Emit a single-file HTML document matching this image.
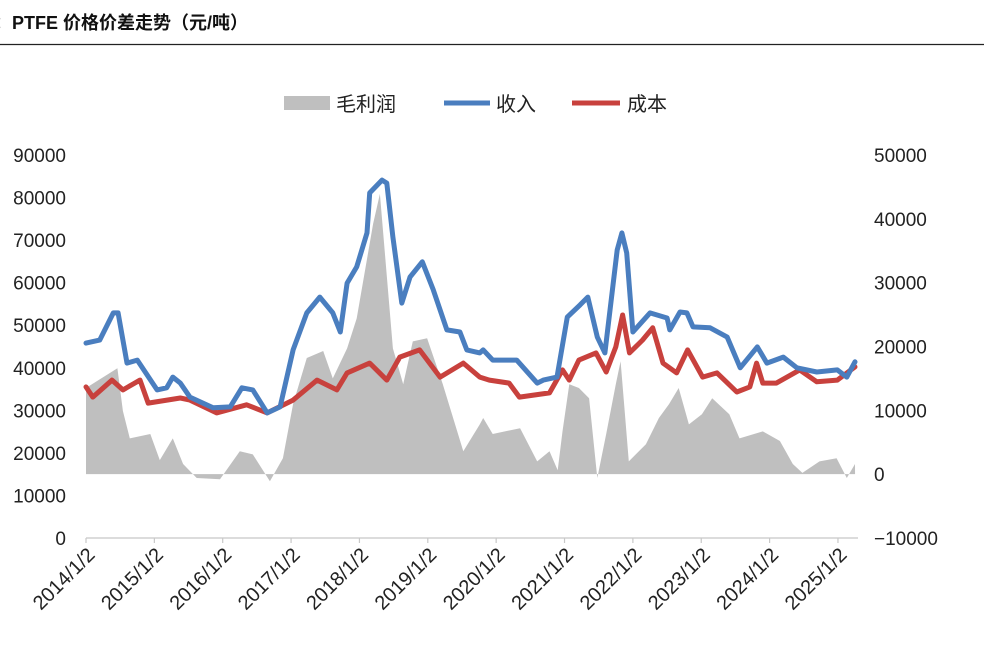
<!DOCTYPE html>
<html><head><meta charset="utf-8">
<style>
html,body{margin:0;padding:0;background:#fff;}
body{width:984px;height:652px;overflow:hidden;font-family:"Liberation Sans","Noto Sans CJK SC",sans-serif;}
</style></head>
<body>
<svg id="chart" width="984" height="652" viewBox="0 0 984 652" xmlns="http://www.w3.org/2000/svg" font-family="Liberation Sans, Noto Sans CJK SC, sans-serif">
  <text x="-6" y="29" font-size="18" font-weight="bold" fill="#111">：PTFE 价格价差走势（元/吨）</text>
  <line x1="0" y1="44.5" x2="984" y2="44.5" stroke="#222" stroke-width="1.2"/>
  <g font-size="20" fill="#222">
    <rect x="284" y="96" width="46" height="14" fill="#bfbfbf"/>
    <text x="336" y="111">毛利润</text>
    <line x1="444" y1="103" x2="490" y2="103" stroke="#4a7ebf" stroke-width="5"/>
    <text x="496" y="111">收入</text>
    <line x1="572" y1="103" x2="620" y2="103" stroke="#c8413d" stroke-width="5"/>
    <text x="627" y="111">成本</text>
  </g>
  <g id="axes"></g>
  <g id="series"></g>
</svg>
<script>
const leftTicks = [0,10000,20000,30000,40000,50000,60000,70000,80000,90000];
const rightTicks = [-10000,0,10000,20000,30000,40000,50000];
const xTickLabels = ["2014/1/2","2015/1/2","2016/1/2","2017/1/2","2018/1/2","2019/1/2","2020/1/2","2021/1/2","2022/1/2","2023/1/2","2024/1/2","2025/1/2"];
const xTickYears = [2014,2015,2016,2017,2018,2019,2020,2021,2022,2023,2024,2025];

const incomeDates = [2014.0,2014.2,2014.4,2014.47,2014.6,2014.75,2015.04,2015.18,2015.27,2015.38,2015.52,2015.86,2016.11,2016.28,2016.44,2016.65,2016.84,2017.03,2017.23,2017.42,2017.61,2017.72,2017.82,2017.96,2018.11,2018.15,2018.33,2018.4,2018.49,2018.62,2018.74,2018.92,2019.08,2019.28,2019.47,2019.57,2019.76,2019.81,2019.95,2020.3,2020.6,2020.69,2020.89,2021.04,2021.23,2021.34,2021.48,2021.59,2021.77,2021.84,2021.91,2022.0,2022.25,2022.5,2022.54,2022.69,2022.79,2022.88,2023.13,2023.38,2023.57,2023.82,2023.96,2024.2,2024.4,2024.69,2024.99,2025.13,2025.25];
const incomeValues = [45800,46500,52900,52900,41100,41800,34800,35300,37800,36400,33100,30600,30800,35300,34800,29400,30800,44200,52900,56600,52900,48400,59900,63700,71700,81100,84100,83400,70700,55200,61300,64900,58300,48900,48400,44200,43500,44200,41800,41800,36400,37100,37800,51900,54800,56600,47200,43500,67700,71700,67000,48400,52900,51700,48900,53100,52900,49600,49400,47200,40000,44900,41100,42500,40000,39000,39500,37800,41400];

const costDates = [2014.0,2014.1,2014.38,2014.54,2014.79,2014.91,2015.38,2015.52,2015.91,2016.35,2016.65,2017.03,2017.38,2017.67,2017.82,2018.15,2018.4,2018.59,2018.88,2019.18,2019.52,2019.76,2019.9,2020.19,2020.34,2020.78,2020.97,2021.07,2021.21,2021.46,2021.61,2021.75,2021.85,2021.95,2022.14,2022.29,2022.44,2022.64,2022.8,2023.02,2023.23,2023.52,2023.71,2023.81,2023.9,2024.1,2024.44,2024.69,2024.99,2025.25];
const costValues = [35500,33100,37100,34800,37100,31700,32900,32400,29400,31300,29400,32400,37100,34800,38800,41100,37100,42500,44200,37800,41100,37800,37100,36400,33100,34100,39500,37100,41800,43500,39000,44900,52400,43500,46500,49400,41100,38800,44200,37800,38800,34300,35500,41100,36400,36400,39500,36700,37100,40200];

const marginDates = [2014.0,2014.46,2014.54,2014.64,2014.94,2015.08,2015.27,2015.42,2015.62,2015.96,2016.25,2016.44,2016.69,2016.88,2017.03,2017.23,2017.47,2017.61,2017.82,2017.96,2018.2,2018.3,2018.49,2018.64,2018.78,2018.99,2019.22,2019.52,2019.76,2019.81,2019.95,2020.35,2020.6,2020.78,2020.9,2020.97,2021.07,2021.21,2021.36,2021.48,2021.61,2021.75,2021.82,2021.94,2022.19,2022.38,2022.53,2022.67,2022.82,2023.01,2023.16,2023.41,2023.56,2023.9,2024.15,2024.34,2024.48,2024.73,2024.98,2025.13,2025.25];
const marginValues = [13500,16600,9900,5600,6300,2200,5600,1600,-600,-800,3600,3100,-1100,2500,11000,18200,19300,15000,19700,24400,39200,43900,19700,14100,20800,21300,14100,3600,7800,8800,6300,7200,2000,3600,600,6700,14100,13500,11900,-600,6300,14100,17700,2000,4700,8800,11000,13500,7800,9400,11900,9400,5600,6700,5200,1600,200,2000,2500,-600,1600];

const NS = "http://www.w3.org/2000/svg";
const X0 = 86, PX_PER_YEAR = 68.36;
const plotTop = 155, plotBottom = 538;
function xScale(yr){ return X0 + (yr - 2014) * PX_PER_YEAR; }
function yLeft(v){ return plotBottom - (v / 90000) * (plotBottom - plotTop); }
function yRight(v){ return plotBottom - ((v + 10000) / 60000) * (plotBottom - plotTop); }

const axes = document.getElementById('axes');
const series = document.getElementById('series');
function mk(tag, attrs, parent){
  const el = document.createElementNS(NS, tag);
  for (const k in attrs) el.setAttribute(k, attrs[k]);
  parent.appendChild(el);
  return el;
}

leftTicks.forEach(v => {
  const t = mk('text', {x: 66, y: yLeft(v) + 7, 'text-anchor': 'end', 'font-size': 19, fill: '#222'}, axes);
  
  
  t.textContent = v;
});
rightTicks.forEach(v => {
  const t = mk('text', {x: 874, y: yRight(v) + 7, 'text-anchor': 'start', 'font-size': 19, fill: '#222'}, axes);
  
  
  t.textContent = (v < 0 ? '−' + Math.abs(v) : v);
});
const xl = mk('line', {x1: X0, y1: plotBottom, x2: 858, y2: plotBottom, stroke: '#c8c8c8', 'stroke-width': 1.2}, axes);


xTickYears.forEach((yr, i) => {
  const x = xScale(yr);
  const tk = mk('line', {x1: x, y1: plotBottom, x2: x, y2: plotBottom + 5, stroke: '#c8c8c8', 'stroke-width': 1.2}, axes);
  
  
  const ax = x + 10, ay = plotBottom + 18;
  const t = mk('text', {x: ax, y: ay, 'text-anchor': 'end', 'font-size': 20, fill: '#222', transform: `rotate(-45 ${ax} ${ay})`}, axes);
  
  
  t.textContent = xTickLabels[i];
});

let d = `M${xScale(marginDates[0])},${yRight(0)}`;
marginDates.forEach((yr, i) => { d += ` L${xScale(yr).toFixed(1)},${yRight(marginValues[i]).toFixed(1)}`; });
d += ` L${xScale(marginDates[marginDates.length - 1])},${yRight(0)} Z`;
const area = mk('path', {d: d, fill: '#bfbfbf', stroke: 'none'}, series);



function line(dates, vals, color, name){
  const pts = dates.map((yr, i) => `${xScale(yr).toFixed(1)},${yLeft(vals[i]).toFixed(1)}`).join(' ');
  const p = mk('polyline', {points: pts, fill: 'none', stroke: color, 'stroke-width': 5, 'stroke-linejoin': 'round', 'stroke-linecap': 'round'}, series);
  
  
}
line(costDates, costValues, '#c8413d', 'cost-line');
line(incomeDates, incomeValues, '#4a7ebf', 'income-line');
</script>
</body></html>
